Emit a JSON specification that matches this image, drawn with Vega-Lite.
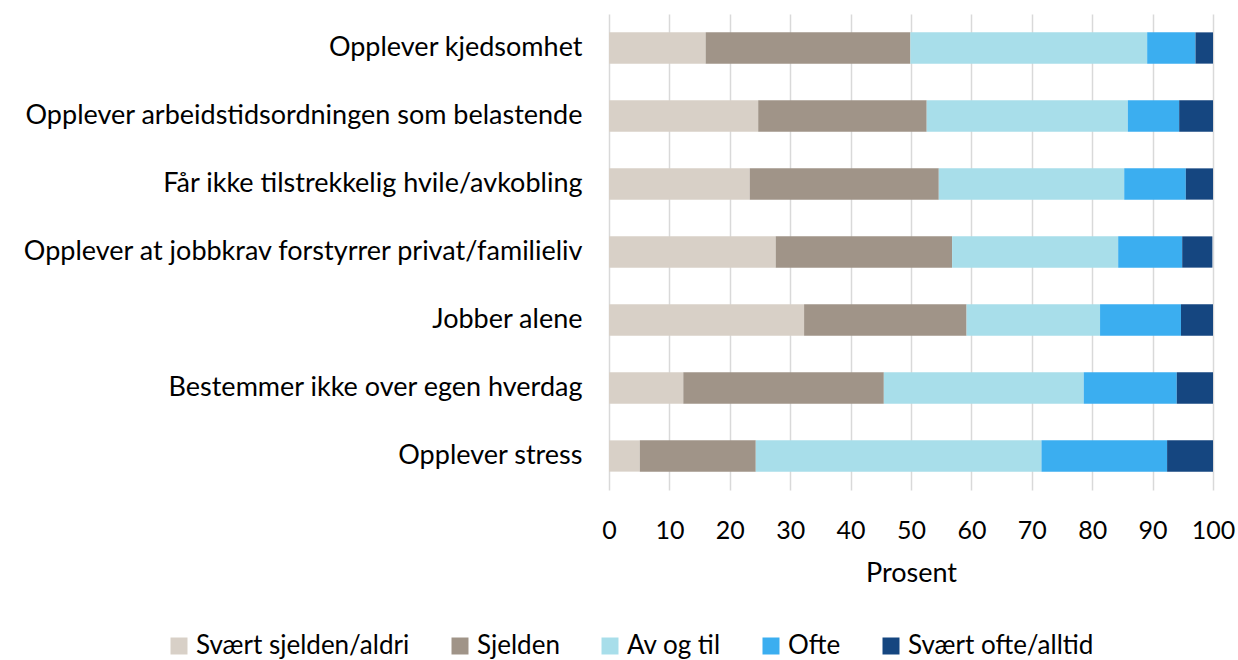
{
  "$schema": "https://vega.github.io/schema/vega-lite/v6.json",
  "width": 604,
  "height": 476,
  "autosize": "none",
  "padding": {"left": 609, "top": 14, "right": 25, "bottom": 170},
  "background": "white",
  "data": {"values": [
    {"item": "Opplever kjedsomhet", "cat": "Svært sjelden/aldri", "rank": 1, "value": 16.0},
    {"item": "Opplever kjedsomhet", "cat": "Sjelden", "rank": 2, "value": 33.9},
    {"item": "Opplever kjedsomhet", "cat": "Av og til", "rank": 3, "value": 39.2},
    {"item": "Opplever kjedsomhet", "cat": "Ofte", "rank": 4, "value": 8.0},
    {"item": "Opplever kjedsomhet", "cat": "Svært ofte/alltid", "rank": 5, "value": 2.9},
    {"item": "Opplever arbeidstidsordningen som belastende", "cat": "Svært sjelden/aldri", "rank": 1, "value": 24.7},
    {"item": "Opplever arbeidstidsordningen som belastende", "cat": "Sjelden", "rank": 2, "value": 27.9},
    {"item": "Opplever arbeidstidsordningen som belastende", "cat": "Av og til", "rank": 3, "value": 33.3},
    {"item": "Opplever arbeidstidsordningen som belastende", "cat": "Ofte", "rank": 4, "value": 8.5},
    {"item": "Opplever arbeidstidsordningen som belastende", "cat": "Svært ofte/alltid", "rank": 5, "value": 5.6},
    {"item": "Får ikke tilstrekkelig hvile/avkobling", "cat": "Svært sjelden/aldri", "rank": 1, "value": 23.3},
    {"item": "Får ikke tilstrekkelig hvile/avkobling", "cat": "Sjelden", "rank": 2, "value": 31.3},
    {"item": "Får ikke tilstrekkelig hvile/avkobling", "cat": "Av og til", "rank": 3, "value": 30.7},
    {"item": "Får ikke tilstrekkelig hvile/avkobling", "cat": "Ofte", "rank": 4, "value": 10.2},
    {"item": "Får ikke tilstrekkelig hvile/avkobling", "cat": "Svært ofte/alltid", "rank": 5, "value": 4.5},
    {"item": "Opplever at jobbkrav forstyrrer privat/familieliv", "cat": "Svært sjelden/aldri", "rank": 1, "value": 27.6},
    {"item": "Opplever at jobbkrav forstyrrer privat/familieliv", "cat": "Sjelden", "rank": 2, "value": 29.2},
    {"item": "Opplever at jobbkrav forstyrrer privat/familieliv", "cat": "Av og til", "rank": 3, "value": 27.5},
    {"item": "Opplever at jobbkrav forstyrrer privat/familieliv", "cat": "Ofte", "rank": 4, "value": 10.6},
    {"item": "Opplever at jobbkrav forstyrrer privat/familieliv", "cat": "Svært ofte/alltid", "rank": 5, "value": 5.0},
    {"item": "Jobber alene", "cat": "Svært sjelden/aldri", "rank": 1, "value": 32.3},
    {"item": "Jobber alene", "cat": "Sjelden", "rank": 2, "value": 26.9},
    {"item": "Jobber alene", "cat": "Av og til", "rank": 3, "value": 22.1},
    {"item": "Jobber alene", "cat": "Ofte", "rank": 4, "value": 13.4},
    {"item": "Jobber alene", "cat": "Svært ofte/alltid", "rank": 5, "value": 5.3},
    {"item": "Bestemmer ikke over egen hverdag", "cat": "Svært sjelden/aldri", "rank": 1, "value": 12.3},
    {"item": "Bestemmer ikke over egen hverdag", "cat": "Sjelden", "rank": 2, "value": 33.2},
    {"item": "Bestemmer ikke over egen hverdag", "cat": "Av og til", "rank": 3, "value": 33.1},
    {"item": "Bestemmer ikke over egen hverdag", "cat": "Ofte", "rank": 4, "value": 15.4},
    {"item": "Bestemmer ikke over egen hverdag", "cat": "Svært ofte/alltid", "rank": 5, "value": 6.0},
    {"item": "Opplever stress", "cat": "Svært sjelden/aldri", "rank": 1, "value": 5.1},
    {"item": "Opplever stress", "cat": "Sjelden", "rank": 2, "value": 19.2},
    {"item": "Opplever stress", "cat": "Av og til", "rank": 3, "value": 47.3},
    {"item": "Opplever stress", "cat": "Ofte", "rank": 4, "value": 20.8},
    {"item": "Opplever stress", "cat": "Svært ofte/alltid", "rank": 5, "value": 7.6}
  ]},
  "mark": {"type": "bar"},
  "encoding": {
    "y": {
      "field": "item", "type": "nominal", "sort": null,
      "scale": {"paddingInner": 0.54, "paddingOuter": 0.27},
      "axis": {"title": null, "ticks": false, "domain": false, "labelPadding": 27, "labelFontSize": 27, "labelLimit": 800}
    },
    "x": {
      "field": "value", "type": "quantitative", "stack": "zero",
      "scale": {"domain": [0, 100], "nice": false},
      "axis": {"title": "Prosent", "values": [0,10,20,30,40,50,60,70,80,90,100], "ticks": false, "domain": false, "labelOverlap": false, "labelFlush": false, "labelPadding": 28, "labelFontSize": 25, "titleFontSize": 27, "titleFontWeight": "normal", "titlePadding": 17, "grid": true}
    },
    "color": {
      "field": "cat", "type": "nominal",
      "scale": {
        "domain": ["Svært sjelden/aldri", "Sjelden", "Av og til", "Ofte", "Svært ofte/alltid"],
        "range": ["#D8D0C7", "#A09488", "#A8DEEA", "#3BAEF0", "#154680"]
      },
      "legend": {"title": null, "orient": "none", "direction": "horizontal", "legendX": -443, "legendY": 619, "symbolType": "square", "symbolSize": 289, "symbolStrokeWidth": 0, "labelFontSize": 26, "labelLimit": 500, "columnPadding": 37, "labelOffset": 4}
    },
    "order": {"field": "rank", "type": "quantitative"}
  },
  "config": {
    "font": "Lato",
    "view": {"stroke": null},
    "axis": {"labelColor": "#000000", "titleColor": "#000000", "gridColor": "#D9D9D9", "gridWidth": 1.5, "labelFont": "Lato", "titleFont": "Lato"},
    "legend": {"labelColor": "#000000", "labelFont": "Lato"}
  }
}
